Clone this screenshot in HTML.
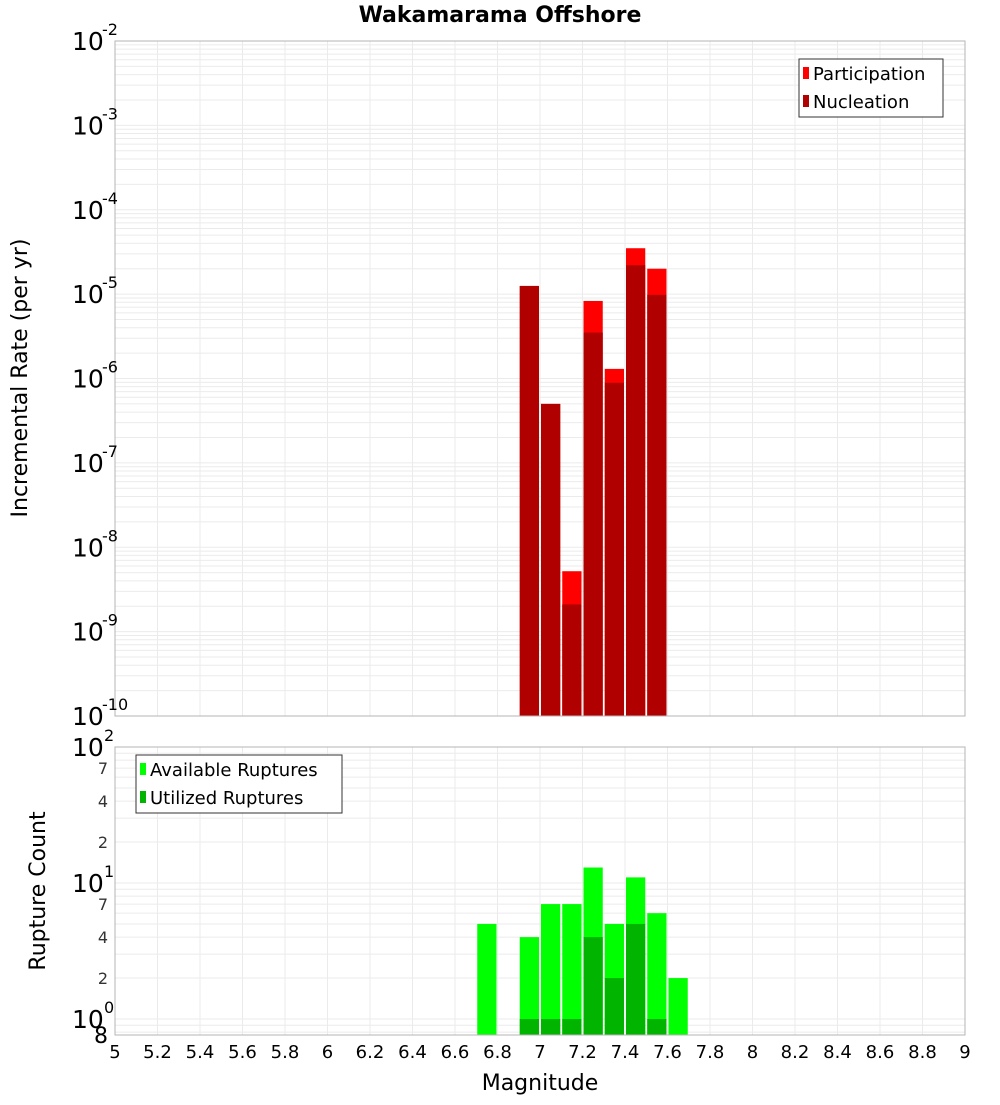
<!DOCTYPE html>
<html><head><meta charset="utf-8"><style>
body{margin:0;background:#fff;width:1000px;height:1100px;overflow:hidden}
svg{font-family:"DejaVu Sans","Liberation Sans",sans-serif}
</style></head><body>
<svg id="c" width="1000" height="1100" viewBox="0 0 1000 1100"></svg>
<script>
const magCenters=[6.95,7.05,7.15,7.25,7.35,7.45,7.55];
const participation=[1.25e-5,5e-7,5.2e-9,8.3e-6,1.3e-6,3.5e-5,2.0e-5];
const nucleation=[1.25e-5,5e-7,2.1e-9,3.5e-6,8.9e-7,2.2e-5,9.8e-6];
const countCenters=[6.75,6.95,7.05,7.15,7.25,7.35,7.45,7.55,7.65];
const available=[5,4,7,7,13,5,11,6,2];
const utilized=[0,1,1,1,4,2,5,1,0];
const xTicks=[5,5.2,5.4,5.6,5.8,6,6.2,6.4,6.6,6.8,7,7.2,7.4,7.6,7.8,8,8.2,8.4,8.6,8.8,9];
const topExps=[-2,-3,-4,-5,-6,-7,-8,-9,-10];

const svg=document.getElementById('c');
const NS='http://www.w3.org/2000/svg';
function mk(tag,attrs,parent){const e=document.createElementNS(NS,tag);for(const k in attrs)e.setAttribute(k,attrs[k]);(parent||svg).appendChild(e);return e;}
const L=115,R=965;
const x=v=>L+(v-5)/4*(R-L);
const T1=41,B1=716;
const yTop=v=>T1+(-2-Math.log10(v))/8*(B1-T1);
const T2=747,B2=1035,PD=136;
const yBot=v=>T2+(2-Math.log10(v))*PD;

// grids
const g=mk('g',{});

for(let d=-10;d<-2;d++)for(let m=1;m<10;m++){const yy=yTop(m*Math.pow(10,d));mk('line',{x1:L,x2:R,y1:yy,y2:yy,stroke:'#ebebeb','stroke-width':1},g);}
for(let d=-1;d<2;d++)for(let m=1;m<10;m++){const yy=yBot(m*Math.pow(10,d));if(yy>B2||yy<T2)continue;mk('line',{x1:L,x2:R,y1:yy,y2:yy,stroke:'#ebebeb','stroke-width':1},g);}
xTicks.forEach(t=>{mk('line',{x1:x(t),x2:x(t),y1:T1,y2:B1,stroke:'#ebebeb'},g);mk('line',{x1:x(t),x2:x(t),y1:T2,y2:B2,stroke:'#ebebeb'},g);});

// top bars
const bw=0.1*(R-L)/4;
magCenters.forEach((c,i)=>{
  const x0=x(c)-bw/2+1,w=bw-2;
  let r=mk('rect',{x:x0,y:yTop(participation[i]),width:w,height:B1-yTop(participation[i]),fill:'#ff0000'});
  
  r=mk('rect',{x:x0,y:yTop(nucleation[i]),width:w,height:B1-yTop(nucleation[i]),fill:'#b00000'});
  
});
// bottom bars
countCenters.forEach((c,i)=>{
  const x0=x(c)-bw/2+1,w=bw-2;
  let r=mk('rect',{x:x0,y:yBot(available[i]),width:w,height:B2-yBot(available[i]),fill:'#00ff00'});
  
  if(utilized[i]>0){r=mk('rect',{x:x0,y:yBot(utilized[i]),width:w,height:B2-yBot(utilized[i]),fill:'#00b400'});
  }
});
// frames
mk('rect',{x:L,y:T1,width:R-L,height:B1-T1,fill:'none',stroke:'#b4b4b4'});
mk('rect',{x:L,y:T2,width:R-L,height:B2-T2,fill:'none',stroke:'#b4b4b4'});

// top y labels
topExps.forEach(e=>{
  const yy=yTop(Math.pow(10,e));
  const t=mk('text',{x:72,y:yy+9,'font-size':25,fill:'#000'});t.textContent='10';
  
  const s=mk('text',{x:102,y:yy-6,'font-size':16,fill:'#000'});s.textContent=String(e);
});
// bottom y labels
[[100,'10','2'],[10,'10','1'],[1,'10','0']].forEach(([v,b,e])=>{
  const yy=yBot(v);
  const t=mk('text',{x:72,y:yy+9,'font-size':25,fill:'#000'});t.textContent=b;
  
  const s=mk('text',{x:104,y:yy-6,'font-size':16,fill:'#000'});s.textContent=e;
});
[[70,'7'],[40,'4'],[20,'2'],[7,'7'],[4,'4'],[2,'2']].forEach(([v,l])=>{
  const t=mk('text',{x:108,y:yBot(v)+6,'font-size':16,'text-anchor':'end',fill:'#333'});t.textContent=l;
  
});
{const t=mk('text',{x:101,y:1043,'font-size':22,'text-anchor':'middle'});t.textContent='8';}
// x labels
xTicks.forEach(v=>{const t=mk('text',{x:x(v),y:1058,'font-size':18,'text-anchor':'middle'});t.textContent=String(v);
});
</script>
<svg style="position:absolute;left:0;top:0" width="1000" height="1100" font-family="DejaVu Sans, Liberation Sans, sans-serif">
<text x="500" y="22" font-size="22" font-weight="bold" text-anchor="middle">Wakamarama Offshore</text>
<text x="540" y="1090" font-size="22" text-anchor="middle">Magnitude</text>
<text transform="translate(27,378) rotate(-90)" font-size="22" text-anchor="middle">Incremental Rate (per yr)</text>
<text transform="translate(45,891) rotate(-90)" font-size="22" text-anchor="middle">Rupture Count</text>
<g>
<rect x="799" y="59" width="144" height="58" fill="#fff" stroke="#333"/>
<rect x="803" y="67" width="6" height="12" fill="#ff0000"/>
<text x="813" y="80" font-size="18">Participation</text>
<rect x="803" y="95" width="6" height="12" fill="#b00000"/>
<text x="813" y="108" font-size="18">Nucleation</text>
</g>
<g>
<rect x="136" y="755" width="206" height="58" fill="#fff" stroke="#333"/>
<rect x="140" y="763" width="6" height="12" fill="#00ff00"/>
<text x="150" y="776" font-size="18">Available Ruptures</text>
<rect x="140" y="791" width="6" height="12" fill="#00b400"/>
<text x="150" y="804" font-size="18">Utilized Ruptures</text>
</g>
</svg>
</body></html>
